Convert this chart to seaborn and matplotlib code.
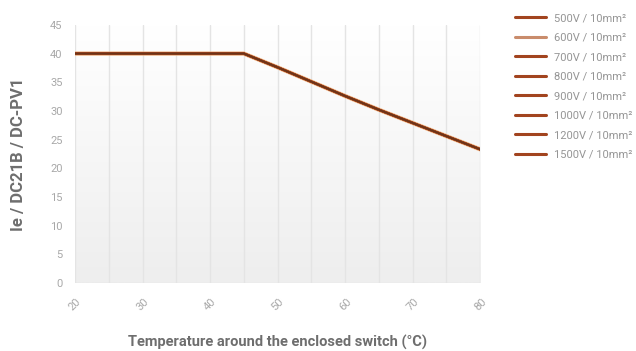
import numpy as np
import pandas as pd
import matplotlib
matplotlib.use("Agg")
import matplotlib.pyplot as plt
import seaborn as sns

# data
temps = [20, 25, 30, 35, 40, 45, 50, 55, 60, 65, 70, 75, 80]
current = [40, 40, 40, 40, 40, 40, 37.6, 35.1, 32.6, 30.2, 27.9, 25.6, 23.3]
series = ["500V / 10mm²", "600V / 10mm²", "700V / 10mm²", "800V / 10mm²",
          "900V / 10mm²", "1000V / 10mm²", "1200V / 10mm²", "1500V / 10mm²"]
colors = ["#a2441f", "#c98c6c", "#a2441f", "#a2441f",
          "#a2441f", "#a2441f", "#a2441f", "#a2441f"]
x_ticks = [20, 30, 40, 50, 60, 70, 80]
y_ticks = [0, 5, 10, 15, 20, 25, 30, 35, 40, 45]

df = pd.DataFrame([
    {"temp": t, "ie": v, "series": s}
    for s in series for t, v in zip(temps, current)
])

sns.set_style("white")
plt.rcParams["font.family"] = ["Roboto", "DejaVu Sans"]

fig = plt.figure(figsize=(6.36, 3.51), dpi=100)
ax = fig.add_axes([0.118, 0.194, 0.637, 0.735])

# light vertical gradient behind the plot
grad = np.linspace(0, 1, 256).reshape(-1, 1)
ax.imshow(grad, extent=[20, 80, 0, 45], aspect="auto", origin="upper",
          cmap=matplotlib.colors.LinearSegmentedColormap.from_list("bg", ["#ffffff", "#eeeeee"]),
          zorder=0)

for xv in range(20, 81, 5):
    ax.axvline(xv, color="#e4e4e4", lw=1.0, zorder=1)
ax.axhline(0, color="#e4e4e4", lw=1.0, zorder=1)

# orange halo under the lines
ax.plot(temps, current, color="#eaa872", lw=3.0, zorder=2, solid_capstyle="round")
sns.lineplot(data=df, x="temp", y="ie", hue="series", hue_order=series,
             palette=dict(zip(series, colors)), lw=1.6, ax=ax, zorder=3,
             legend=True)
ax.plot(temps, current, color="#6b3418", lw=1.3, zorder=4)

ax.set_xlim(20, 80)
ax.set_ylim(0, 45)
ax.set_xticks(x_ticks)
ax.set_yticks(y_ticks)
ax.set_xticklabels([str(t) for t in x_ticks], rotation=45, ha="center",
                   color="#a8a8a8", fontsize=8)
ax.set_yticklabels([str(t) for t in y_ticks], color="#a8a8a8", fontsize=8)
ax.tick_params(axis="x", length=0, pad=10)
ax.tick_params(axis="y", length=0, pad=9)
for s in ax.spines.values():
    s.set_visible(False)

ax.set_xlabel("Temperature around the enclosed switch (°C)", fontsize=10.5,
              fontweight="bold", color="#6e6e6e", labelpad=16)
ax.set_ylabel("Ie / DC21B / DC-PV1", fontsize=12, fontweight="bold",
              color="#6e6e6e", labelpad=17)

leg = ax.legend(loc="upper left", bbox_to_anchor=(1.086, 1.046), frameon=False,
                fontsize=8, handlelength=2.8, handletextpad=0.75,
                labelspacing=0.86, borderaxespad=0, borderpad=0)
for line in leg.get_lines():
    line.set_linewidth(2.2)
for txt in leg.get_texts():
    txt.set_color("#959595")

fig.savefig("out.png", dpi=100)
